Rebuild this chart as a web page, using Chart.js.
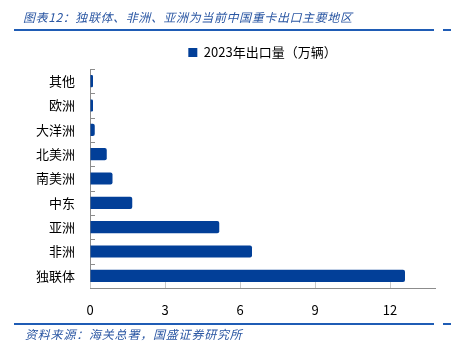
<!DOCTYPE html>
<html><head><meta charset="utf-8">
<script src="https://cdn.jsdelivr.net/npm/chart.js@4/dist/chart.umd.min.js"></script>
<style>
html,body{margin:0;padding:0;background:#fff;}
#wrap{position:relative;width:451px;height:357px;overflow:hidden;}
#c{position:absolute;left:0;top:0;}
.t{position:absolute;font-family:"Noto Sans CJK SC";font-style:italic;color:#2b57a3;white-space:nowrap;}
#title{left:23px;top:8px;font-size:12px;letter-spacing:0.6px;}
#foot{left:25px;top:325px;font-size:12px;letter-spacing:0.8px;}
.ln{position:absolute;height:2px;background:#1f5cb5;}
</style></head>
<body><div id="wrap">
<canvas id="c" width="451" height="357"></canvas>
<div id="title" class="t">图表12：独联体、非洲、亚洲为当前中国重卡出口主要地区</div>
<div class="ln" style="left:14px;top:29px;width:420px;"></div>
<div class="ln" style="left:443px;top:29px;width:8px;"></div>
<div class="ln" style="left:14px;top:323px;width:420px;"></div>
<div class="ln" style="left:443px;top:323px;width:8px;"></div>
<div id="foot" class="t">资料来源：海关总署，国盛证券研究所</div>
</div>
<script>
const categories = ["其他","欧洲","大洋洲","北美洲","南美洲","中东","亚洲","非洲","独联体"];
const seriesName = "2023年出口量（万辆）";
const exports2023 = [0.12, 0.12, 0.19, 0.67, 0.9, 1.69, 5.17, 6.48, 12.6];
const xTicks = [0, 3, 6, 9, 12];

const innerTicks = {
  id: 'innerTicks',
  afterDraw(chart) {
    const ctx = chart.ctx, x = chart.scales.x, y = chart.scales.y;
    ctx.save();
    ctx.strokeStyle = '#8c8c8c';
    ctx.lineWidth = 1;
    const n = y.ticks.length;
    for (let i = 0; i <= n; i++) {
      const py = Math.round(y.top + (y.bottom - y.top) * i / n) + 0.5;
      ctx.beginPath(); ctx.moveTo(x.left, py); ctx.lineTo(x.left + 5, py); ctx.stroke();
    }
    ctx.strokeStyle = '#c8c8c8';
    xTicks.forEach(v => {
      const px = Math.round(x.getPixelForValue(v)) + 0.5;
      ctx.beginPath(); ctx.moveTo(px, y.bottom); ctx.lineTo(px, y.bottom - 6); ctx.stroke();
    });
    ctx.restore();
  }
};

new Chart(document.getElementById('c'), {
  type: 'bar',
  data: {
    labels: categories,
    datasets: [{
      label: seriesName,
      data: exports2023,
      backgroundColor: '#023f98',
      borderColor: '#023f98',
      borderWidth: 0,
      borderRadius: 2,
      borderSkipped: 'start',
      barPercentage: 0.5,
      categoryPercentage: 1.0
    }]
  },
  options: {
    indexAxis: 'y',
    responsive: false,
    animation: false,
    devicePixelRatio: 1,
    layout: { padding: { top: 39, right: 16, bottom: 39, left: 0 } },
    plugins: {
      legend: {
        position: 'top',
        fullSize: false,
        labels: {
          boxWidth: 9, boxHeight: 9, padding: 7,
          color: '#000',
          font: { family: '"Noto Sans CJK SC"', size: 13 }
        }
      },
      tooltip: { enabled: false }
    },
    scales: {
      x: {
        min: 0, max: 13.8,
        afterBuildTicks(s) { s.ticks = xTicks.map(v => ({ value: v })); },
        afterFit(s) { s.height = 30; },
        grid: { display: true, drawOnChartArea: false, drawTicks: false },
        border: { display: true, color: '#8c8c8c', width: 1 },
        ticks: { padding: 14, color: '#000', font: { family: '"Noto Sans CJK SC"', size: 13 } }
      },
      y: {
        afterFit(s) { s.width = 90; },
        grid: { display: false, drawTicks: false },
        border: { display: true, color: '#8c8c8c', width: 1 },
        ticks: { padding: 15, color: '#000', font: { family: '"Noto Sans CJK SC"', size: 13 } }
      }
    }
  },
  plugins: [innerTicks]
});
</script>
</body></html>
